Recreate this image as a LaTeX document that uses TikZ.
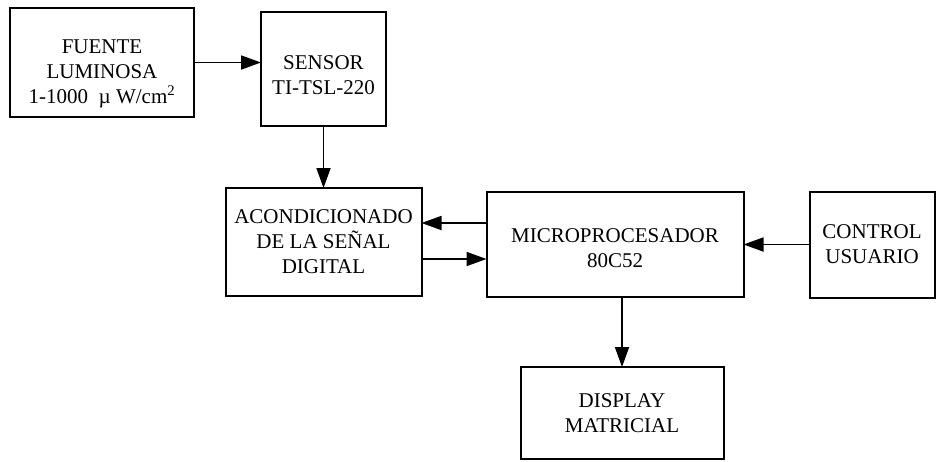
\documentclass[tikz,border=0pt]{standalone}
\usepackage{fontspec}
\setmainfont{Liberation Serif}
\usepackage{tikz}
\usetikzlibrary{
	arrows.meta,
	positioning
}

\begin{document}
\begin{tikzpicture}[
			font=\fontsize{21}{25}\selectfont,
			bloque/.style={draw, line width=2pt, align=center, inner sep=2pt, outer sep=0pt},
			>={Triangle[length=20pt, width=14pt]},
			fl/.style={->, line width=1.8pt}
		]
		\useasboundingbox (0,0) rectangle (939pt,-461pt);

		\node[bloque, minimum width=184pt, minimum height=109pt] (fuente) at (102pt,-62.5pt) {\rule{0pt}{36pt}FUENTE\\ LUMINOSA\\ 1-1000\ \ µ W/cm\textsuperscript{2}};
		\node[bloque, minimum width=125pt, minimum height=114pt, right=67pt of fuente, yshift=-6.5pt] (sensor) {\rule{0pt}{26pt}SENSOR\\ TI-TSL-220};
		\node[bloque, minimum width=196pt, minimum height=108pt, below=62pt of sensor] (acond) {ACONDICIONADO\\ DE LA SEÑAL\\ DIGITAL};
		\node[bloque, minimum width=257pt, minimum height=105pt, right=65pt of acond, yshift=-2.5pt] (micro) {\rule{0pt}{22pt}MICROPROCESADOR\\ 80C52};
		\node[bloque, minimum width=125pt, minimum height=106pt, right=66pt of micro] (control) {CONTROL\\ USUARIO};
		\node[bloque, minimum width=203pt, minimum height=92pt, below=70pt of micro, xshift=7pt] (display) {DISPLAY\\ MATRICIAL};

		\coordinate (ida) at ([yshift=19pt]acond.east);
		\coordinate (vuelta) at ([yshift=-17pt]acond.east);

		\draw[fl] (fuente.east) -- (fuente.east -| sensor.west);
		\draw[fl] (sensor) -- (acond);
		\draw[fl] (ida -| micro.west) -- (ida);
		\draw[fl] (vuelta) -- (vuelta -| micro.west);
		\draw[fl] (control.west) -- (control.west -| micro.east);
		\draw[fl] (display.north |- micro.south) -- (display.north);
	\end{tikzpicture}
\end{document}
